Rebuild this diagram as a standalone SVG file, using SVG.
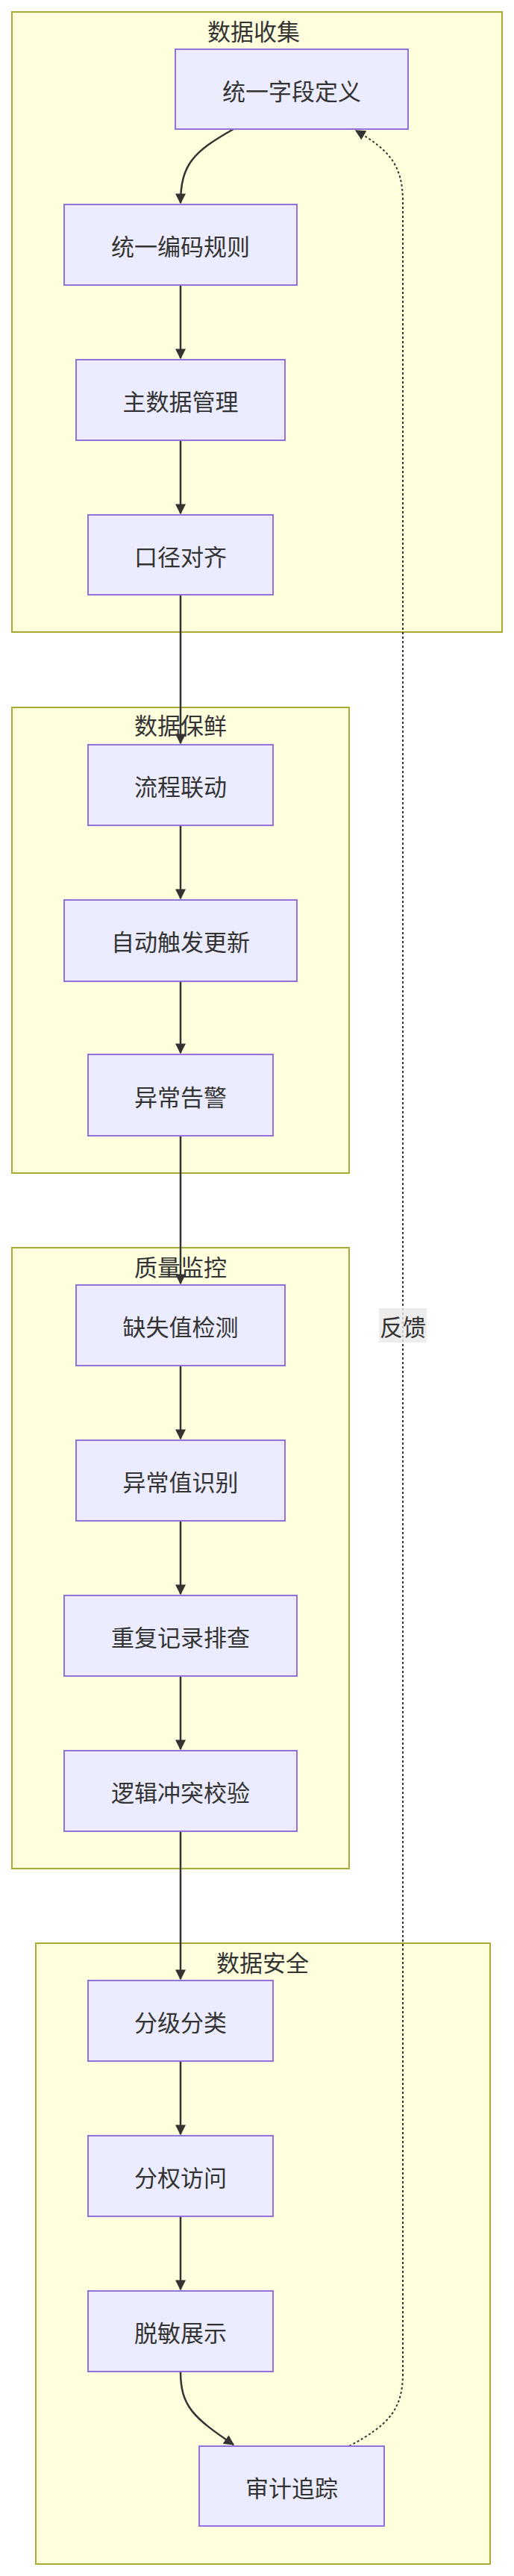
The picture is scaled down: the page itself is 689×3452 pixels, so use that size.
<svg xmlns="http://www.w3.org/2000/svg" width="689" height="3452" viewBox="0 0 689 3452">
<style>
.c{fill:#ffffde;stroke:#aaaa33;stroke-width:2}
.n{fill:#ececff;stroke:#9370db;stroke-width:2}
text{font-family:"Noto Sans CJK SC",sans-serif;font-size:31px;fill:#333;text-anchor:middle;dominant-baseline:central}
.e{fill:none;stroke:#333;stroke-width:2.5}
.d{fill:none;stroke:#333;stroke-width:2;stroke-dasharray:3 3}
</style>
<defs><marker id="a" viewBox="0 0 10 10" refX="9" refY="5" markerWidth="8" markerHeight="8" markerUnits="userSpaceOnUse" orient="auto"><path d="M0,0L10,5L0,10z" fill="#333"/></marker>
<marker id="b" viewBox="0 0 10 10" refX="9" refY="5" markerWidth="14" markerHeight="14" markerUnits="userSpaceOnUse" orient="auto"><path d="M0,0L10,5L0,10z" fill="#333"/></marker></defs>
<g id="clusters">
<rect class="c" x="16" y="16" width="657" height="831"/><text x="340" y="40">数据收集</text>
<rect class="c" x="16" y="948" width="452" height="624"/><text x="242" y="970">数据保鲜</text>
<rect class="c" x="16" y="1672" width="452" height="832"/><text x="242" y="1696">质量监控</text>
<rect class="c" x="48" y="2604" width="609" height="832"/><text x="352" y="2628">数据安全</text>
</g>
<g id="connectors">
<path class="e" marker-end="url(#b)" d="M313,173 C260,203 242,220 242,272"/>
<path class="e" marker-end="url(#b)" d="M242,382V480"/>
<path class="e" marker-end="url(#b)" d="M242,590V688"/>
<path class="e" marker-end="url(#b)" d="M242,797V996"/>
<path class="e" marker-end="url(#b)" d="M242,1106V1204"/>
<path class="e" marker-end="url(#b)" d="M242,1315V1411"/>
<path class="e" marker-end="url(#b)" d="M242,1522V1720"/>
<path class="e" marker-end="url(#b)" d="M242,1830V1928"/>
<path class="e" marker-end="url(#b)" d="M242,2038V2136"/>
<path class="e" marker-end="url(#b)" d="M242,2246V2344"/>
<path class="e" marker-end="url(#b)" d="M242,2454V2652"/>
<path class="e" marker-end="url(#b)" d="M242,2762V2860"/>
<path class="e" marker-end="url(#b)" d="M242,2970V3068"/>
<path class="e" marker-end="url(#b)" d="M242,3178 C242,3225 260,3240 313,3276"/>
<path class="d" marker-end="url(#b)" d="M468,3278 C520,3250 540,3230 540,3180 V270 C540,220 520,200 477,175"/>
<rect x="508" y="1753" width="64" height="46" fill="#e8e8e8" opacity="0.8"/><text x="540" y="1776">反馈</text>
</g>
<g id="n1"><rect class="n" x="235" y="66" width="312" height="107"/><text x="391" y="120">统一字段定义</text></g>
<g id="n2"><rect class="n" x="86" y="274" width="312" height="108"/><text x="242" y="328">统一编码规则</text></g>
<g id="n3"><rect class="n" x="102" y="482" width="280" height="108"/><text x="242" y="536">主数据管理</text></g>
<g id="n4"><rect class="n" x="118" y="690" width="248" height="107"/><text x="242" y="744">口径对齐</text></g>
<g id="n5"><rect class="n" x="118" y="998" width="248" height="108"/><text x="242" y="1052">流程联动</text></g>
<g id="n6"><rect class="n" x="86" y="1206" width="312" height="109"/><text x="242" y="1260">自动触发更新</text></g>
<g id="n7"><rect class="n" x="118" y="1413" width="248" height="109"/><text x="242" y="1468">异常告警</text></g>
<g id="n8"><rect class="n" x="102" y="1722" width="280" height="108"/><text x="242" y="1776">缺失值检测</text></g>
<g id="n9"><rect class="n" x="102" y="1930" width="280" height="108"/><text x="242" y="1984">异常值识别</text></g>
<g id="n10"><rect class="n" x="86" y="2138" width="312" height="108"/><text x="242" y="2192">重复记录排查</text></g>
<g id="n11"><rect class="n" x="86" y="2346" width="312" height="108"/><text x="242" y="2400">逻辑冲突校验</text></g>
<g id="n12"><rect class="n" x="118" y="2654" width="248" height="108"/><text x="242" y="2708">分级分类</text></g>
<g id="n13"><rect class="n" x="118" y="2862" width="248" height="108"/><text x="242" y="2916">分权访问</text></g>
<g id="n14"><rect class="n" x="118" y="3070" width="248" height="108"/><text x="242" y="3124">脱敏展示</text></g>
<g id="n15"><rect class="n" x="267" y="3278" width="248" height="107"/><text x="391" y="3332">审计追踪</text></g>
</svg>
